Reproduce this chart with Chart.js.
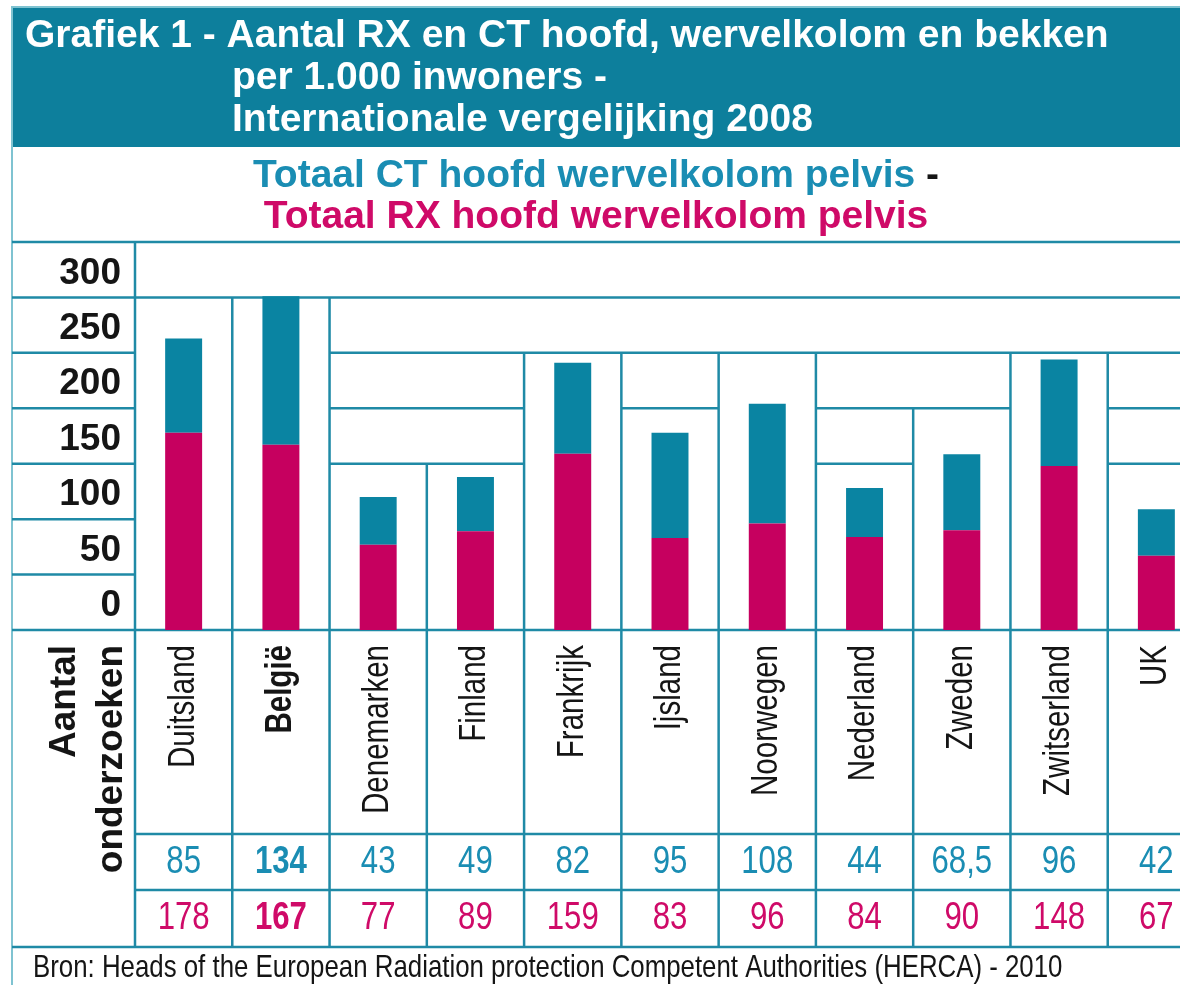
<!DOCTYPE html>
<html><head><meta charset="utf-8">
<script src="https://cdn.jsdelivr.net/npm/chart.js@4.4.1/dist/chart.umd.min.js"></script>
<style>
html,body{margin:0;padding:0;background:#fff;overflow:hidden;width:1180px;height:985px}
#wrap{position:absolute;left:0;top:0;width:1210px;height:985px}
canvas{display:block}
</style></head><body>
<div id="wrap"><canvas id="c" width="1210" height="985"></canvas></div>
<script>
// ---- data ----
const countries = ['Duitsland','België','Denemarken','Finland','Frankrijk','Ijsland','Noorwegen','Nederland','Zweden','Zwitserland','UK'];
const ctValues = [85,134,43,49,82,95,108,44,68.5,96,42];
const rxValues = [178,167,77,89,159,83,96,84,90,148,67];
const ctLabels = ['85','134','43','49','82','95','108','44','68,5','96','42'];
const rxLabels = ['178','167','77','89','159','83','96','84','90','148','67'];
const yTickValues = [0,50,100,150,200,250,300];
const highlightIndex = 1;
// table-like partial grid: [value, fromBoundary, toBoundary] and [boundary, topValue]
const hSegments = [[300,0,11],[250,2,11],[200,2,4],[200,5,6],[200,7,9],[200,10,11],[150,2,4],[150,7,8],[150,10,11]];
const vSegments = [[1,300],[2,300],[3,150],[4,250],[5,250],[6,250],[7,250],[8,200],[9,250],[10,250]];

const titleLines = ['Grafiek 1 - Aantal RX en CT hoofd, wervelkolom en bekken','per 1.000 inwoners -','Internationale vergelijking 2008'];
const subtitleCT = 'Totaal CT hoofd wervelkolom pelvis';
const subtitleRX = 'Totaal RX hoofd wervelkolom pelvis';
const rowTitle = ['Aantal','onderzoeken'];
const sourceText = 'Bron: Heads of the European Radiation protection Competent Authorities (HERCA) - 2010';

// ---- styles ----
const TEAL_BAR = '#0a84a2', MAG_BAR = '#c6005f';
const BAND = '#0d7f9c', LINE = '#1f8aa6', BORDER = '#7fc3d1';
const TEAL_TXT = '#1a8db3', MAG_TXT = '#cf0a68', DARK = '#151515';
const SANS = '"Liberation Sans", Arial, sans-serif';

// narrow font detection
const mctx = document.createElement('canvas').getContext('2d');
function hasFont(f){ mctx.font='40px "'+f+'", monospace'; const a=mctx.measureText('Denemarken 0123').width; mctx.font='40px monospace'; const b=mctx.measureText('Denemarken 0123').width; return Math.abs(a-b)>1; }
const narrowOK = hasFont('Liberation Sans Narrow');
function narrowText(ctx, txt, x, y, size, weight){
  if (narrowOK){ ctx.font = weight+' '+size+'px "Liberation Sans Narrow"'; ctx.fillText(txt,x,y); }
  else { ctx.save(); ctx.translate(x,y); ctx.scale(0.82,1); ctx.font = weight+' '+size+'px '+SANS; ctx.fillText(txt,0,0); ctx.restore(); }
}

const decor = {
  id:'decor',
  beforeDraw(chart){
    const ctx = chart.ctx; const W = chart.width;
    ctx.save();
    ctx.fillStyle='#fff'; ctx.fillRect(0,0,W,chart.height);
    // title band
    ctx.fillStyle=BAND; ctx.fillRect(12,8,W,139);
    ctx.strokeStyle=BORDER; ctx.lineWidth=2;
    ctx.beginPath(); ctx.moveTo(12,7); ctx.lineTo(W,7); ctx.moveTo(12,6); ctx.lineTo(12,985); ctx.stroke();
    ctx.fillStyle='#fff'; ctx.textBaseline='middle'; ctx.textAlign='left';
    ctx.font='bold 39px '+SANS;
    ctx.fillText(titleLines[0],25,36);
    ctx.fillText(titleLines[1],232,78);
    ctx.fillText(titleLines[2],232,120);
    // subtitles
    const cx=596;
    const w1=ctx.measureText(subtitleCT).width, w2=ctx.measureText(' -').width;
    const x1=cx-(w1+w2)/2;
    ctx.fillStyle=TEAL_TXT; ctx.fillText(subtitleCT,x1,176);
    ctx.fillStyle=DARK; ctx.fillText(' -',x1+w1,176);
    ctx.textAlign='center'; ctx.fillStyle=MAG_TXT; ctx.fillText(subtitleRX,cx,217);
    ctx.restore();
  },
  beforeDatasetsDraw(chart){
    const ctx=chart.ctx, x=chart.scales.x, y=chart.scales.y, a=chart.chartArea;
    const bx = b => b<=0 ? a.left : (b>=countries.length ? a.right : x.getPixelForValue(b-0.5));
    const tableBottom = 947, row1 = 834, row2 = 890;
    ctx.save(); ctx.strokeStyle=LINE; ctx.lineWidth=2.5; ctx.lineCap='butt';
    ctx.beginPath();
    [y.max,0].forEach(v=>{ const py=y.getPixelForValue(v); ctx.moveTo(12,py); ctx.lineTo(a.right,py); });
    yTickValues.forEach(v=>{ if(v>0){ const py=y.getPixelForValue(v); ctx.moveTo(12,py); ctx.lineTo(a.left,py);} });
    hSegments.forEach(([v,b0,b1])=>{ const py=y.getPixelForValue(v); ctx.moveTo(bx(b0),py); ctx.lineTo(bx(b1),py); });
    ctx.moveTo(a.left, y.getPixelForValue(y.max)); ctx.lineTo(a.left, tableBottom);
    vSegments.forEach(([b,v])=>{ const px=bx(b); ctx.moveTo(px,y.getPixelForValue(v)); ctx.lineTo(px,tableBottom); });
    ctx.moveTo(a.left,row1); ctx.lineTo(a.right,row1);
    ctx.moveTo(a.left,row2); ctx.lineTo(a.right,row2);
    ctx.moveTo(12,tableBottom); ctx.lineTo(a.right,tableBottom);
    ctx.stroke();
    ctx.restore();
  },
  afterDraw(chart){
    const ctx=chart.ctx, x=chart.scales.x, a=chart.chartArea;
    ctx.save();
    countries.forEach((c,i)=>{
      const px=x.getPixelForValue(i);
      ctx.save(); ctx.translate(px, a.bottom+15); ctx.rotate(-Math.PI/2);
      ctx.textAlign='right'; ctx.textBaseline='middle'; ctx.fillStyle=DARK;
      narrowText(ctx,c,0,0,36,i===highlightIndex?'bold':'normal');
      ctx.restore();
    });
    ctx.save(); ctx.translate(0,a.bottom+15); ctx.rotate(-Math.PI/2);
    ctx.textAlign='right'; ctx.textBaseline='alphabetic'; ctx.fillStyle=DARK; ctx.font='bold 37px '+SANS;
    ctx.fillText(rowTitle[0],0,75); ctx.fillText(rowTitle[1],0,122);
    ctx.restore();
    ctx.textAlign='center'; ctx.textBaseline='middle';
    countries.forEach((c,i)=>{
      const px=x.getPixelForValue(i); const w=i===highlightIndex?'bold':'normal';
      ctx.fillStyle=TEAL_TXT; narrowText(ctx,ctLabels[i],px,863,38,w);
      ctx.fillStyle=MAG_TXT; narrowText(ctx,rxLabels[i],px,919,38,w);
    });
    ctx.textAlign='left'; ctx.fillStyle=DARK;
    narrowText(ctx,sourceText,33,968,31.5,'normal');
    ctx.restore();
  }
};

new Chart(document.getElementById('c'), {
  type:'bar',
  data:{ labels:countries, datasets:[
    {label:'RX', data:rxValues, backgroundColor:MAG_BAR, stack:'s'},
    {label:'CT', data:ctValues, backgroundColor:TEAL_BAR, stack:'s'}
  ]},
  options:{
    responsive:false, animation:false,
    layout:{padding:{left:12, top:242, right:5, bottom:0}},
    datasets:{bar:{categoryPercentage:1, barPercentage:0.38}},
    plugins:{legend:{display:false}, tooltip:{enabled:false}, title:{display:false}},
    scales:{
      x:{stacked:true, grid:{display:false}, border:{display:false}, ticks:{display:false},
         afterFit:s=>{s.height=355;}},
      y:{stacked:true, min:0, max:350, grid:{display:false}, border:{display:false},
         afterFit:s=>{s.width=123;},
         afterBuildTicks:s=>{s.ticks=yTickValues.map(v=>({value:v}));},
         ticks:{stepSize:50, padding:6, labelOffset:-24, color:DARK, font:{family:SANS, size:37, weight:'bold'}}}
    }
  },
  plugins:[decor]
});
</script>
</body></html>
